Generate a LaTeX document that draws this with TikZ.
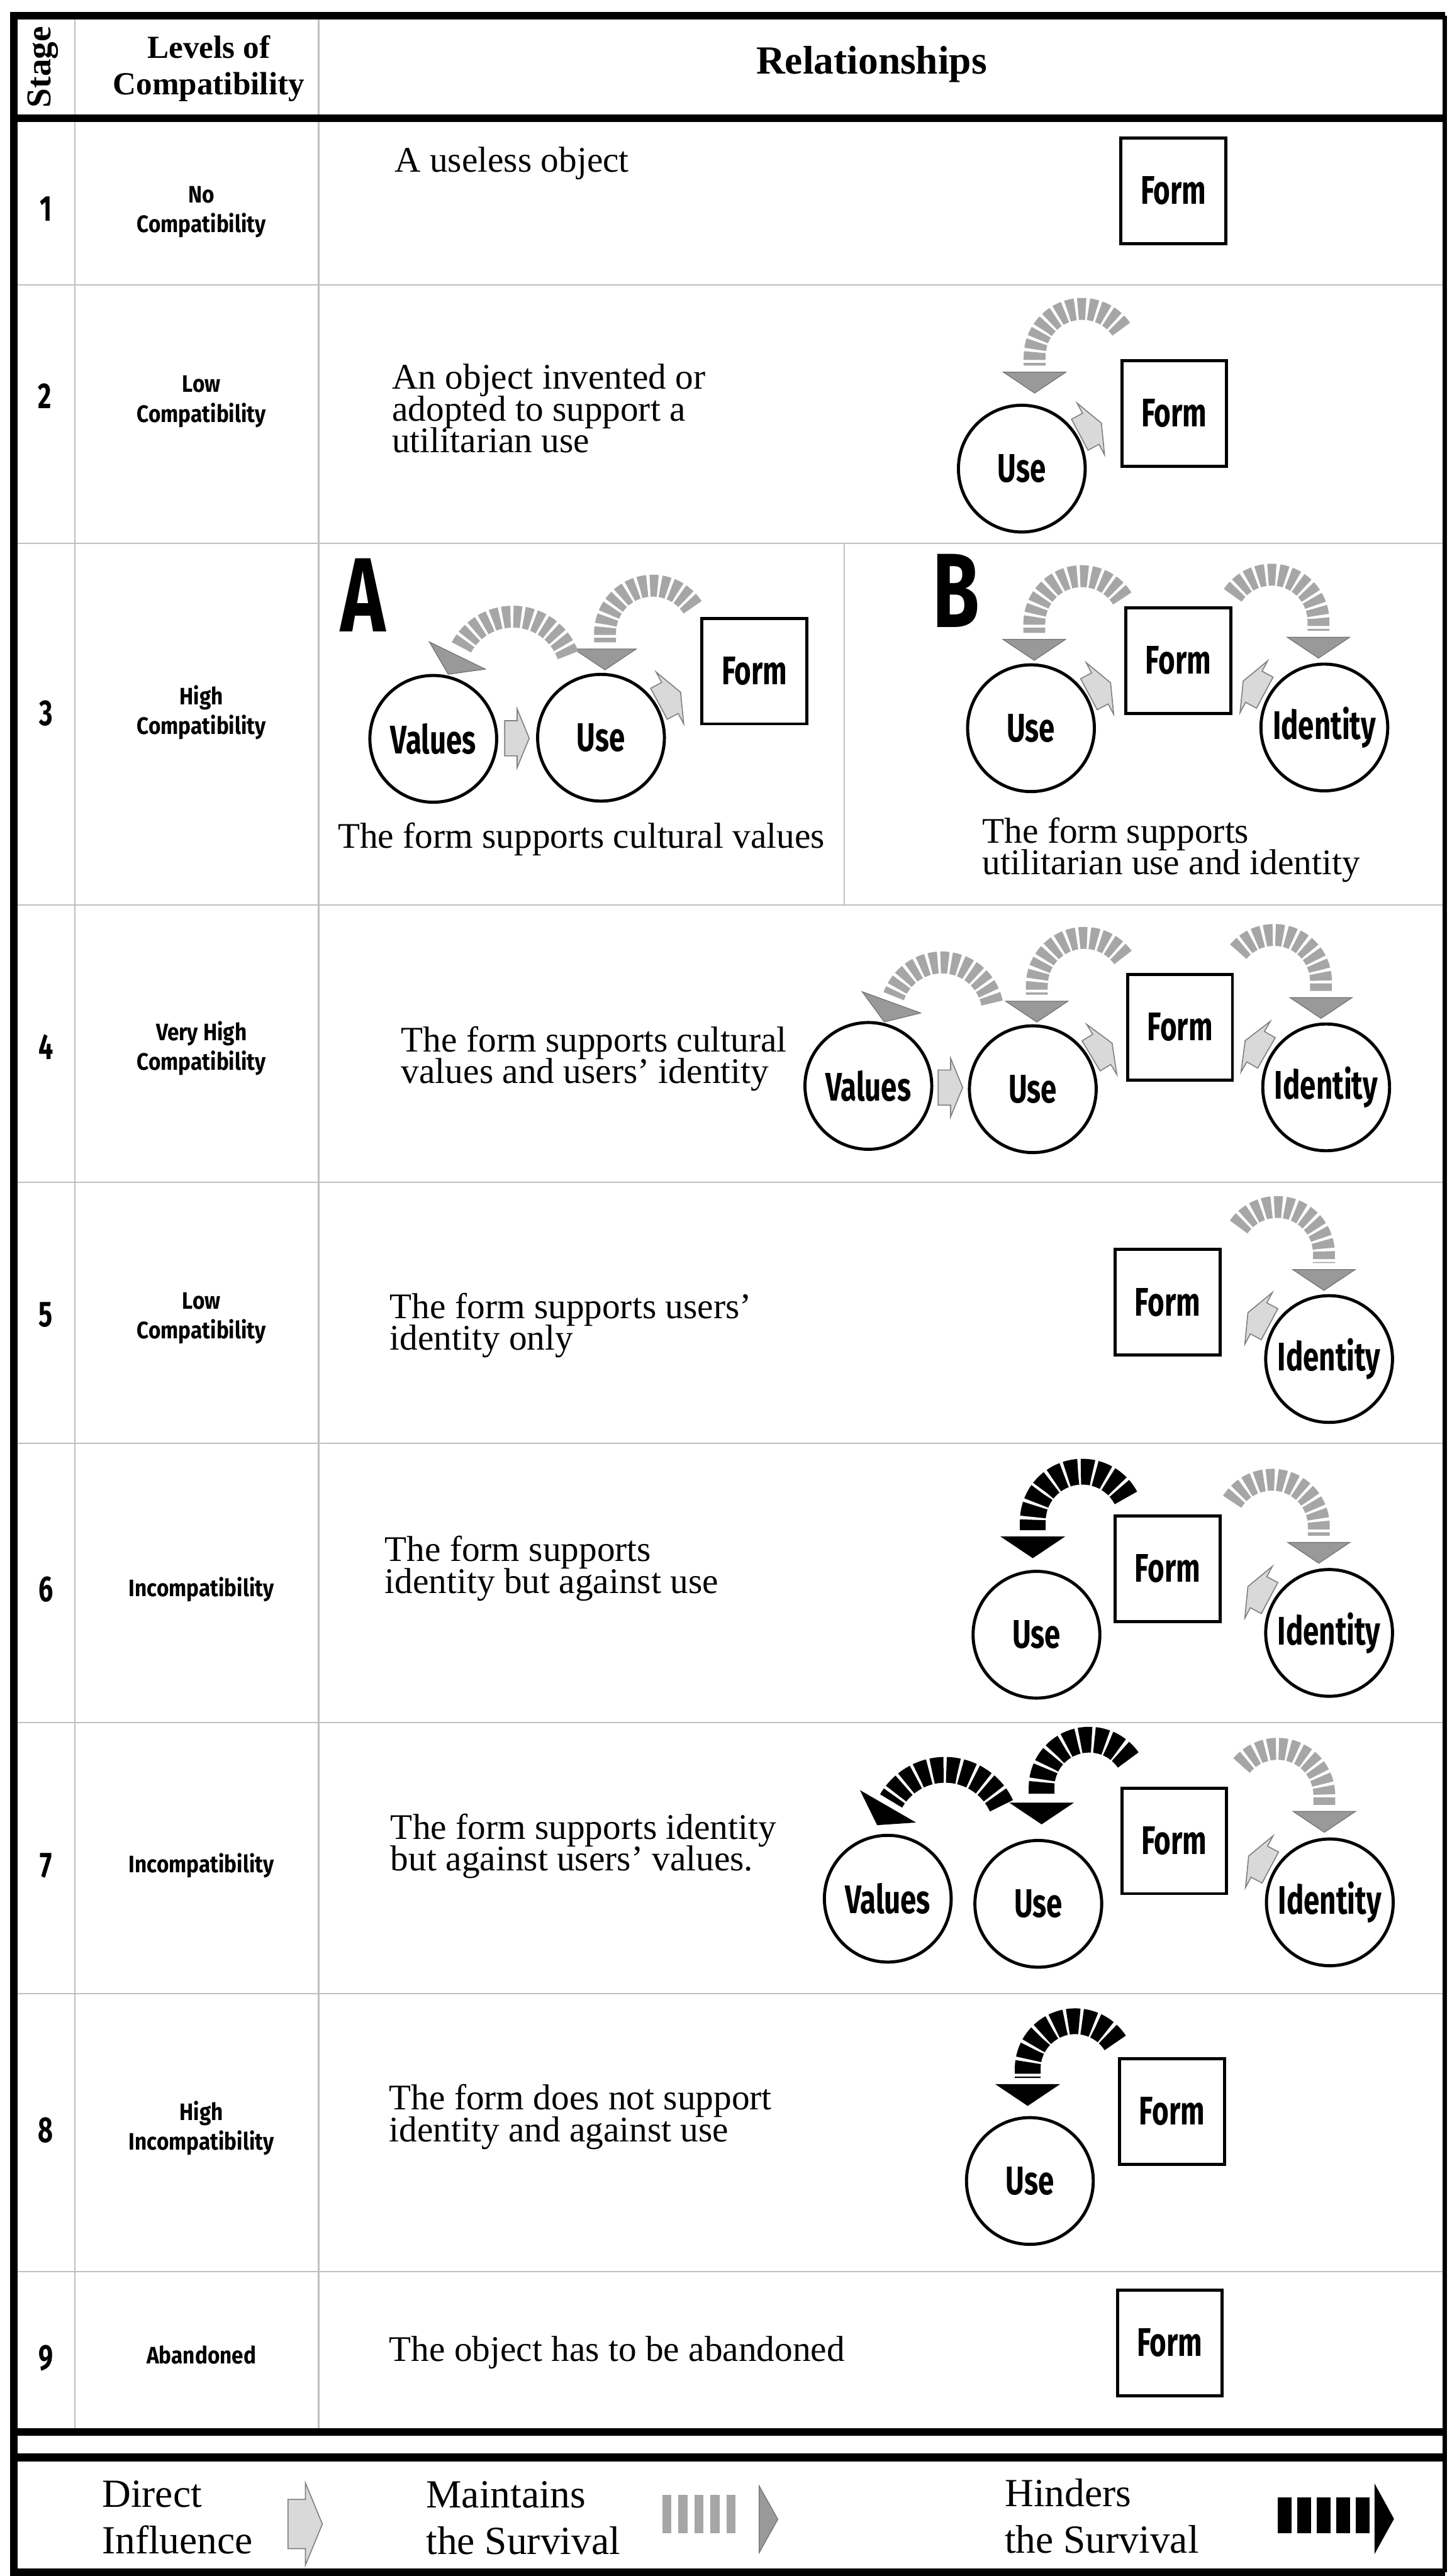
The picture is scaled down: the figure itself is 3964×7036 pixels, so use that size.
\documentclass[tikz,border=0pt]{standalone}
\usepackage{fontspec}
\setmainfont{Liberation Serif}
\newfontfamily\figfont{Fira Sans}[FakeStretch=0.72]
\newfontfamily\lvlfont{Fira Sans}[FakeStretch=0.88]
\usetikzlibrary{calc}

\newcommand{\survarc}[7][keepband]{%
  \draw[#1] ($(#2)+({#3+180}:{75+#7})+({#4+180}:#6)+(#5:#6)$)
    arc[start angle=#5, end angle=#4, radius=#6] -- ($(#2)+({#3+180}:75)$);
  \filldraw[#1 head] (#2) -- ($(#2)+({#3+180}:57)+({#3+90}:85)$)
    -- ($(#2)+({#3+180}:57)+({#3-90}:85)$) -- cycle;
}
\newcommand{\directarrow}[3][1]{%
  \filldraw[direct, shift={(#2)}, rotate=#3, scale=#1]
    (-34,48) -- (0,48) -- (0,80) -- (33,0) -- (0,-80) -- (0,-48) -- (-34,-48) -- cycle;
}

\begin{document}
\begin{tikzpicture}[x=0.01cm, y=0.01cm]
\tikzset{
  frame/.style={line width=6pt},
  rowline/.style={black!25, line width=1pt},
  circ/.style={circle, draw, line width=2.4pt, minimum size=3.46cm, inner sep=0pt, font=\figfont\bfseries\fontsize{31}{31}\selectfont},
  formbox/.style={draw, line width=2.4pt, minimum width=2.86cm, minimum height=2.88cm, inner sep=0pt, font=\figfont\bfseries\fontsize{31}{31}\selectfont},
  stagenum/.style={font=\figfont\bfseries\fontsize{28}{28}\selectfont},
  lvl/.style={align=center, font=\lvlfont\bfseries\fontsize{18.5}{23}\selectfont},
  desc/.style={anchor=north west, align=left, inner sep=0pt, font={\fontsize{28}{24.5}\selectfont\lineskiplimit=-20pt}},
  legtext/.style={anchor=north west, align=left, inner sep=0pt, font={\fontsize{31}{36}\selectfont\lineskiplimit=-20pt}},
  headtxt/.style={align=center, font={\bfseries\fontsize{25}{28.5}\selectfont}},
  letter/.style={font=\figfont\bfseries\fontsize{82}{82}\selectfont},
  keepband/.style={black!35, line width=17pt, dash pattern=on 6pt off 2.2pt},
  keepband head/.style={fill=black!40, draw=black!55, line width=0.6pt},
  hinderband/.style={black, line width=20pt, dash pattern=on 9pt off 2.2pt},
  hinderband head/.style={fill=black, draw=black, line width=0.6pt},
  direct/.style={fill=black!15, draw=black!50, line width=0.8pt}
}
\useasboundingbox (0,0) rectangle (3964,-7036);

\draw[rowline] (38,-778) -- (3945,-778) (38,-1484) -- (3945,-1484) (38,-2472) -- (3945,-2472)
  (38,-3230) -- (3945,-3230) (38,-3943) -- (3945,-3943) (38,-4705) -- (3945,-4705)
  (38,-5445) -- (3945,-5445) (38,-6205) -- (3945,-6205);
\draw[rowline] (205,-43) -- (205,-6642) (870,-43) -- (870,-6642) (2305,-1484) -- (2305,-2472);
\draw[frame] (3945,-43) -- (38,-43) -- (38,-7025) -- (3945,-7025);
\draw[frame] (38,-323) -- (3945,-323) (38,-6642) -- (3945,-6642) (38,-6712) -- (3945,-6712);
\draw[line width=3.5pt] (3945,-43) -- (3945,-7025);

\node[rotate=90, font={\bfseries\fontsize{27}{27}\selectfont}] (stagehd) at (118,-183) {Stage};
\node[headtxt] (levelhd) at (570,-187) {Levels of\\Compatibility};
\node[font={\bfseries\fontsize{31}{31}\selectfont}] (relhd) at (2380,-175) {Relationships};

\node[stagenum] (n1) at (126,-571) {1};
\node[lvl] (l1) at (550,-579) {No\\Compatibility};
\node[desc] (d1) at (1077,-400) {A useless object};
\node[formbox] (form1) at (3204,-521) {Form};

\node[stagenum] (n2) at (123,-1082) {2};
\node[lvl] (l2) at (550,-1097) {Low\\Compatibility};
\node[desc] (d2) at (1070,-994) {An object invented or\\adopted to support a\\utilitarian use};
\node[circ] (use2) at (2790,-1280) {Use};
\node[formbox] (form2) at (3206,-1129) {Form};
\coordinate (t2) at ($(use2.north)+(35,29)$);
\survarc{t2}{270}{180}{35}{130}{25}
\directarrow{$(use2.30)+(30:40)$}{28}

\node[stagenum] (n3) at (125,-1948) {3};
\node[lvl] (l3) at (550,-1946) {High\\Compatibility};
\node[letter] (la) at (991,-1626) {A};
\node[circ] (valA) at (1183,-2018) {Values};
\node[circ] (useA) at (1641,-2015) {Use};
\node[formbox] (formA) at (2060,-1833) {Form};
\node[desc] (dA) at (922,-2246) {The form supports cultural values};
\coordinate (tAu) at ($(useA.north)+(11,8)$);
\coordinate (tAv) at ($(valA.center)+(77:181)$);
\survarc{tAu}{270}{180}{33}{130}{25}
\survarc{tAv}{244}{154}{20}{160}{0}
\directarrow{$(valA)!0.5!(useA)$}{0}
\directarrow{$(useA.30)+(30:40)$}{28}

\node[letter] (lb) at (2610,-1613) {B};
\node[circ] (useB) at (2815,-1989) {Use};
\node[formbox] (formB) at (3217,-1804) {Form};
\node[circ] (idB) at (3616,-1987) {Identity};
\node[desc] (dB) at (2682,-2233) {The form supports\\utilitarian use and identity};
\coordinate (tBu) at ($(useB.north)+(9,8)$);
\coordinate (tBi) at ($(idB.north)+(-16,12)$);
\survarc{tBu}{270}{180}{32}{130}{25}
\survarc{tBi}{270}{0}{146}{128}{25}
\directarrow{$(useB.30)+(30:40)$}{28}
\directarrow{$(idB.150)+(150:45)$}{152}

\node[stagenum] (n4) at (125,-2859) {4};
\node[lvl] (l4) at (550,-2864) {Very High\\Compatibility};
\node[desc] (d4) at (1095,-2803) {The form supports cultural\\values and users' identity};
\node[circ] (val4) at (2371,-2966) {Values};
\node[circ] (use4) at (2820,-2975) {Use};
\node[formbox] (form4) at (3222,-2806) {Form};
\node[circ] (id4) at (3621,-2970) {Identity};
\coordinate (t4v) at ($(val4.center)+(76:180)$);
\coordinate (t4u) at ($(use4.north)+(11,6)$);
\coordinate (t4i) at ($(id4.north)+(-14,11)$);
\survarc{t4v}{250}{160}{12}{140}{0}
\survarc{t4u}{270}{180}{36}{130}{25}
\survarc{t4i}{270}{0}{140}{128}{25}
\directarrow{$(val4)!0.5!(use4)$}{0}
\directarrow{$(use4.30)+(30:40)$}{31}
\directarrow{$(id4.150)+(150:45)$}{150}

\node[stagenum] (n5) at (125,-3591) {5};
\node[lvl] (l5) at (550,-3600) {Low\\Compatibility};
\node[desc] (d5) at (1064,-3531) {The form supports users'\\identity only};
\node[formbox] (form5) at (3188,-3557) {Form};
\node[circ] (id5) at (3629,-3712) {Identity};
\coordinate (t5i) at ($(id5.north)+(-14,10)$);
\survarc{t5i}{270}{0}{145}{128}{25}
\directarrow{$(id5.150)+(150:45)$}{152}

\node[stagenum] (n6) at (125,-4341) {6};
\node[lvl] (l6) at (550,-4341) {Incompatibility};
\node[desc] (d6) at (1050,-4195) {The form supports\\identity but against use};
\node[circ] (use6) at (2830,-4465) {Use};
\node[formbox] (form6) at (3188,-4285) {Form};
\node[circ] (id6) at (3629,-4460) {Identity};
\coordinate (t6u) at ($(use6.north)+(-10,33)$);
\coordinate (t6i) at ($(id6.north)+(-28,13)$);
\survarc[hinderband]{t6u}{270}{180}{28}{135}{25}
\survarc{t6i}{270}{0}{148}{128}{25}
\directarrow{$(id6.150)+(150:45)$}{152}

\node[stagenum] (n7) at (125,-5095) {7};
\node[lvl] (l7) at (550,-5095) {Incompatibility};
\node[desc] (d7) at (1066,-4953) {The form supports identity\\but against users' values.};
\node[circ] (val7) at (2424,-5186) {Values};
\node[circ] (use7) at (2835,-5200) {Use};
\node[formbox] (form7) at (3206,-5028) {Form};
\node[circ] (id7) at (3631,-5196) {Identity};
\coordinate (t7v) at ($(val7.center)+(98:204)$);
\coordinate (t7u) at ($(use7.north)+(9,41)$);
\coordinate (t7i) at ($(id7.north)+(-15,14)$);
\survarc[hinderband]{t7v}{240}{150}{25}{170}{0}
\survarc[hinderband]{t7u}{270}{180}{35}{130}{25}
\survarc{t7i}{270}{0}{140}{128}{25}
\directarrow{$(id7.150)+(150:45)$}{152}

\node[stagenum] (n8) at (125,-5818) {8};
\node[lvl] (l8) at (550,-5812) {High\\Incompatibility};
\node[desc] (d8) at (1062,-5693) {The form does not support\\identity and against use};
\node[circ] (use8) at (2812,-5957) {Use};
\node[formbox] (form8) at (3200,-5767) {Form};
\coordinate (t8u) at ($(use8.north)+(-6,29)$);
\survarc[hinderband]{t8u}{270}{180}{33}{130}{25}

\node[stagenum] (n9) at (125,-6440) {9};
\node[lvl] (l9) at (550,-6432) {Abandoned};
\node[desc] (d9) at (1062,-6380) {The object has to be abandoned};
\node[formbox] (form9) at (3194,-6399) {Form};

\node[legtext] (legdir) at (278,-6775) {Direct\\Influence};
\directarrow[1.4]{834,-6894}{0}
\node[legtext] (legkeep) at (1163,-6777) {Maintains\\the Survival};
\draw[keepband, line width=30pt, dash pattern=on 7.1pt off 5.4pt] (1808,-6867) -- (2010,-6867);
\filldraw[keepband head] (2073,-6790) -- (2124,-6881) -- (2073,-6972) -- cycle;
\node[legtext] (leghind) at (2743,-6770) {Hinders\\the Survival};
\draw[hinderband, line width=28pt, dash pattern=on 10.8pt off 4.3pt] (3489,-6870) -- (3741,-6870);
\filldraw[hinderband head] (3754,-6787) -- (3805,-6880) -- (3754,-6972) -- cycle;
\end{tikzpicture}
\end{document}
